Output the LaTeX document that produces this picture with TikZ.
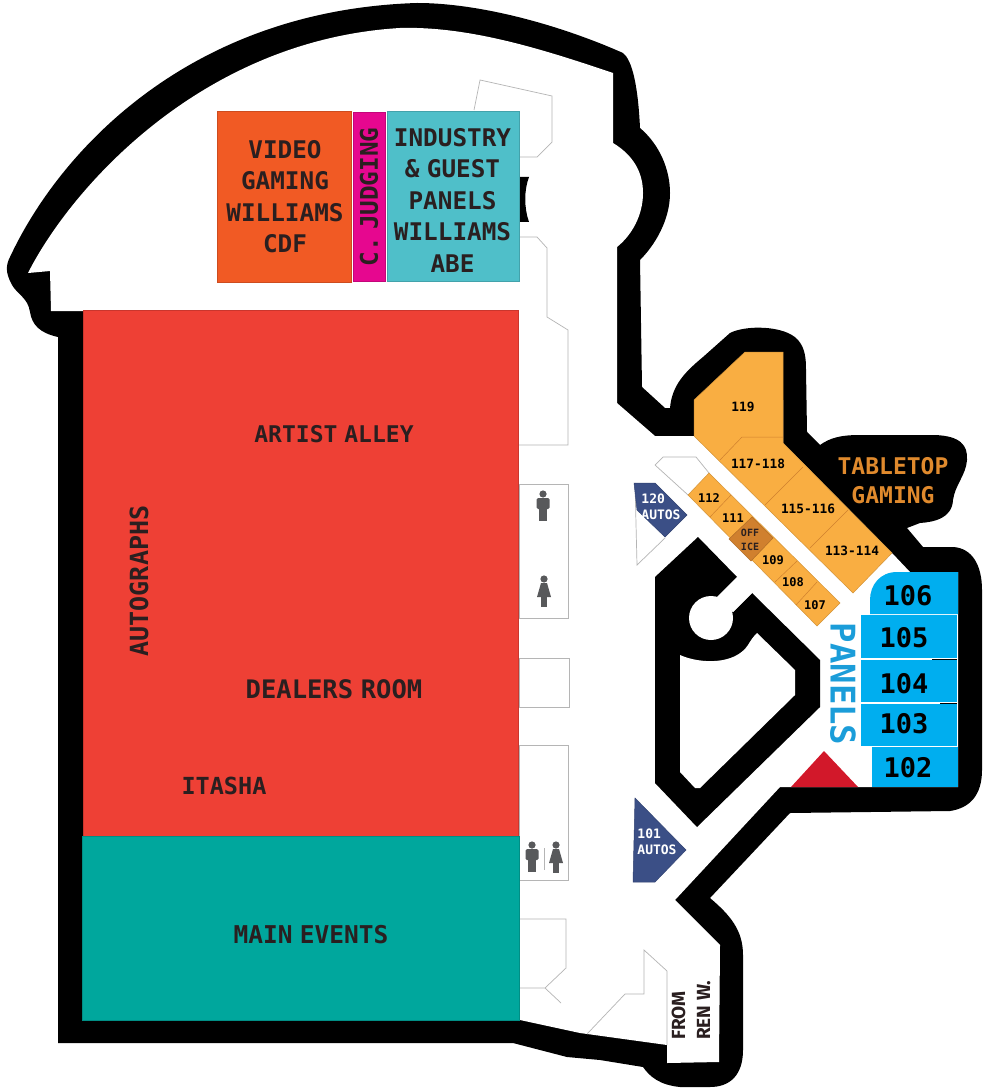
\documentclass[tikz,border=0pt]{standalone}
\usepackage{fontspec}
\setmainfont[WordSpace=0.5]{DejaVu Sans Mono}
\newfontfamily\fromfont{Fira Sans}
\usetikzlibrary{positioning}
\definecolor{orangeroom}{HTML}{F9AE42}
\definecolor{officeroom}{HTML}{D0802E}
\definecolor{panelblue}{HTML}{00AEEF}
\definecolor{panelword}{HTML}{1B9DD9}
\definecolor{autosblue}{HTML}{3B4F86}
\definecolor{dealerred}{HTML}{EE4035}
\definecolor{eventteal}{HTML}{00A79D}
\definecolor{guestcyan}{HTML}{4FBFC9}
\definecolor{judgepink}{HTML}{E6078F}
\definecolor{videoorange}{HTML}{F15A24}
\definecolor{stagered}{HTML}{D2182A}
\definecolor{tableword}{HTML}{E08A2D}
\definecolor{inktext}{HTML}{2A1F20}
\definecolor{wayline}{HTML}{B5B5B5}
\definecolor{iconfill}{HTML}{58595B}
\tikzstyle{wall} = [fill=black]
\tikzstyle{floorarea} = [fill=white]
\tikzstyle{room} = [draw=#1!85!black, line width=0.5pt, fill=#1]
\tikzstyle{wayout} = [draw=wayline, line width=0.7pt]
\tikzstyle{split} = [draw=officeroom, line width=0.5pt]
\tikzstyle{bigword} = [font=\bfseries\fontsize{24.3}{31.5}\selectfont, text=inktext, align=center, inner sep=0pt]
\tikzstyle{hallword} = [font=\bfseries\fontsize{#1}{29}\selectfont, text=inktext, align=center, inner sep=0pt]
\tikzstyle{smallroom} = [font=\bfseries\fontsize{12.8}{14}\selectfont, text=black, align=center, inner sep=0pt]
\tikzstyle{tinyroom} = [font=\bfseries\fontsize{12}{14}\selectfont, text=black, align=center, inner sep=0pt]
\tikzstyle{panelroom} = [font=\bfseries\fontsize{27}{30}\selectfont, text=black, inner sep=0pt]
\tikzstyle{autosword} = [font=\bfseries\fontsize{13}{16.5}\selectfont, text=white, align=left, inner sep=0pt]
\tikzset{
  manicon/.pic={
    \fill[iconfill] (0,-12) circle (3.6);
    \fill[iconfill, rounded corners=1.5pt] (-6.5,-8) rectangle (6.5,3);
    \fill[iconfill] (-4,3) rectangle (4,15);
  },
  womanicon/.pic={
    \fill[iconfill] (0,-12) circle (3.6);
    \fill[iconfill] (-3,-8) -- (3,-8) -- (7,6) -- (-7,6) -- cycle;
    \fill[iconfill] (-3,6) rectangle (3,16);
  }
}
\begin{document}
\begin{tikzpicture}[x=1pt, y=-1pt]
    \useasboundingbox (0,0) rectangle (1000,1091);
    % Outer black band
    \path [wall] (58,337) .. controls (40,333) and (32,325) .. (30,312) .. controls (28,298) and (18,295) .. (12,285) .. controls (5,272) and (6,265) .. (10,257)
      .. controls (60,150) and (190,10) .. (417,3) .. controls (480,3) and (560,25) .. (623,53) .. controls (632,60) and (638,85) .. (640,128)
      .. controls (660,145) and (670,170) .. (670,193) .. controls (670,220) and (655,245) .. (640,260)
      -- (642,387) -- (665,408) -- (670,408)
      .. controls (672,385) and (685,372) .. (703,357) -- (730,333) .. controls (745,325) and (785,325) .. (798,340) .. controls (805,348) and (806,358) .. (806,370)
      -- (807,432) -- (820,445)
      .. controls (830,438) and (840,435) .. (860,435) -- (935,435) .. controls (960,436) and (968,445) .. (967,460) .. controls (966,475) and (955,485) .. (953,500) .. controls (952,518) and (935,522) .. (920,523)
      -- (907,528) -- (923,547) -- (953,547)
      .. controls (972,548) and (982,565) .. (982,590) -- (982,770) .. controls (982,795) and (970,808) .. (950,811)
      -- (790,813) -- (710,898)
      .. controls (730,915) and (743,930) .. (743,955) -- (743,1050) .. controls (743,1075) and (730,1087) .. (710,1087) -- (680,1087) .. controls (660,1085) and (650,1077) .. (643,1067)
      -- (600,1060) -- (567,1057) -- (513,1043) -- (58,1043) -- cycle;
    % Floor inside the band
    \path [floorarea] (28,273) .. controls (70,190) and (200,40) .. (400,28) .. controls (470,26) and (545,50) .. (613,73)
      -- (613,143) .. controls (633,155) and (643,172) .. (643,193) .. controls (643,215) and (632,235) .. (617,247)
      -- (617,403) -- (655,436) -- (694,436) -- (694,400) -- (783,400) -- (783,443) -- (892,553) -- (910,572) -- (958,572) -- (958,787) -- (780,787)
      -- (675,900) -- (720,945) -- (719,1062) -- (667,1063) -- (667,1045) -- (580,1033) -- (520,1020) -- (83,1020) -- (83,311) -- (51,311) -- (50,271) -- cycle;
    % Island in the hall
    \path [wall] (698,537) -- (655,577) -- (655,783) -- (697,827) -- (820,707) -- (820,660) -- (752,593) -- (733,612) -- (717,597) -- (737,577) -- cycle;
    \path [floorarea] (711,618) circle (22);
    \path [floorarea] (737,577) -- (752,593) -- (733,612) -- (717,597) -- cycle;
    \path [floorarea] (680,655) .. controls (700,664) and (735,665) .. (748,645) .. controls (751,640) and (753,637) .. (757,633)
      -- (795,670) -- (795,695) -- (700,788) -- (695,788) -- (680,772) -- cycle;
    \path [wall] (520,177) -- (529,177) .. controls (524,190) and (524,208) .. (529,222) -- (520,222) -- cycle;

    % Thin outlines on the floor
    \path [wayout] (474,110) -- (480,80) -- (552,96) -- (552,142) -- (537,157) -- (519,157);
    \path [wayout] (519,237) -- (537,237) -- (547,248) -- (547,317) -- (568,330) -- (568,445) -- (519,445);
    \path [wayout] (519,484) rectangle (568,618);
    \path [wayout] (519,658) rectangle (569,707);
    \path [wayout] (519,745) rectangle (568,880);
    \path [wayout] (544,848) -- (544,870);
    \path [wayout] (519,919) -- (566,919) -- (566,968) -- (545,988) -- (519,988);
    \path [wayout] (545,988) -- (561,1003);
    \path [wayout] (587,1034) -- (625,994) -- (644,994) -- (644,950) -- (667,971) -- (667,1045);
    \path [wayout] (688,495) -- (655,465) -- (663,457) -- (696,457) -- (709,473);
    \path [wayout] (635,483) -- (637,565) -- (665,538);

    % Restroom signs
    \pic at (543,506) {manicon};
    \pic at (544,591) {womanicon};
    \pic at (532,857) {manicon};
    \pic at (556,857) {womanicon};

    % Big rooms
    \path [room=dealerred] (83,310) rectangle (518,836);
    \path [room=eventteal] (82,836) rectangle (519,1020);
    \path [room=videoorange] (217,111) rectangle (351,282);
    \path [room=judgepink] (353,112) rectangle (385.5,281);
    \path [room=guestcyan] (387,111) rectangle (519,281);

    % Tabletop rooms
    \path [room=orangeroom] (694,400) -- (745,352) -- (783,352) -- (783,443) -- (892,553) -- (853,593) -- (694,436) -- cycle;
    \path [split] (720,460) -- (742,437) -- (783,437);
    \path [split] (765,505) -- (803,467);
    \path [split] (810,548) -- (848,510);

    % Small rooms along the hall
    \path [room=orangeroom] (709,473) -- (840,603) -- (817,626) -- (688,495) -- cycle;
    \path [split] (710,517) -- (731,495);
    \path [split] (775,582) -- (797,561);
    \path [split] (796,605) -- (817,582);
    \path [room=officeroom] (752,517) -- (773,538) -- (751,561) -- (729,539) -- cycle;

    % Autos, stage and panel rooms
    \path [room=autosblue] (634,483) -- (655,483) -- (687,515) -- (665,537) -- (637,510) -- cycle;
    \path [room=autosblue] (635,798) -- (686,850) -- (655,882) -- (633,882) -- cycle;
    \path [fill=stagered] (824,751) -- (858,787) -- (791,787) -- cycle;
    \path [fill=panelblue] (958,572) -- (958,614) -- (870,614) -- (870,600) .. controls (870,585) and (880,572) .. (897,572) -- cycle;
    \path [fill=panelblue] (861,615) rectangle (957,658);
    \path [fill=panelblue] (861,660) rectangle (957,702);
    \path [fill=panelblue] (861,704) rectangle (957,746);
    \path [fill=panelblue] (872,747) rectangle (958,787);
    \path [draw=black] (932,659) -- (957,659);
    \path [draw=black] (940,703) -- (957,703);

    % Labels
    \node [bigword] (video) at (285,196.5) {VIDEO\\GAMING\\WILLIAMS\\CDF};
    \node [bigword, rotate=90] (judging) at (369,197) {C. JUDGING};
    \node [bigword] (guest) at (452.5,200) {INDUSTRY\\\& GUEST\\PANELS\\WILLIAMS\\ABE};
    \node [hallword=23] (artist) at (334,434) {ARTIST ALLEY};
    \node [hallword=25.5] (dealers) at (334,689) {DEALERS ROOM};
    \node [hallword=23.5] (itasha) at (224,786) {ITASHA};
    \node [hallword=25, rotate=90] (autographs) at (139,581) {AUTOGRAPHS};
    \node [hallword=24.5] (mainevents) at (311,935) {MAIN EVENTS};
    \node [hallword=23, text=tableword] (tabletop) at (893,481) {TABLETOP\\GAMING};
    \node [font=\bfseries\fontsize{34}{34}\selectfont, text=panelword, rotate=-90, inner sep=0pt] (panels) at (843,684) {PANELS};
    \node [smallroom] (r119) at (743,407) {119};
    \node [smallroom] (r117) at (758,464) {117-118};
    \node [smallroom] (r115) at (808,509) {115-116};
    \node [smallroom] (r113) at (852,551) {113-114};
    \node [tinyroom] (r112) at (709,498) {112};
    \node [tinyroom] (r111) at (733,518) {111};
    \node [font=\bfseries\fontsize{10}{14}\selectfont, text=inktext, align=center, inner sep=0pt] (office) at (750,540) {OFF\\ICE};
    \node [tinyroom] (r109) at (773,560) {109};
    \node [tinyroom] (r108) at (793,582) {108};
    \node [tinyroom] (r107) at (815,605) {107};
    \node [panelroom] (r106) at (908,596) {106};
    \node [panelroom] (r105) at (904,638) {105};
    \node [panelroom] (r104) at (904,684) {104};
    \node [panelroom] (r103) at (904,724) {103};
    \node [panelroom] (r102) at (908,768) {102};
    \node [autosword] (autos120) at (661,507) {120\\AUTOS};
    \node [autosword] (autos101) at (657,842) {101\\AUTOS};
    \node [font=\fromfont\bfseries\fontsize{19}{25}\selectfont, text=inktext, align=left, inner sep=0pt, rotate=90, anchor=west] (fromren) at (691,1040) {FROM\\REN W.};
\end{tikzpicture}
\end{document}
